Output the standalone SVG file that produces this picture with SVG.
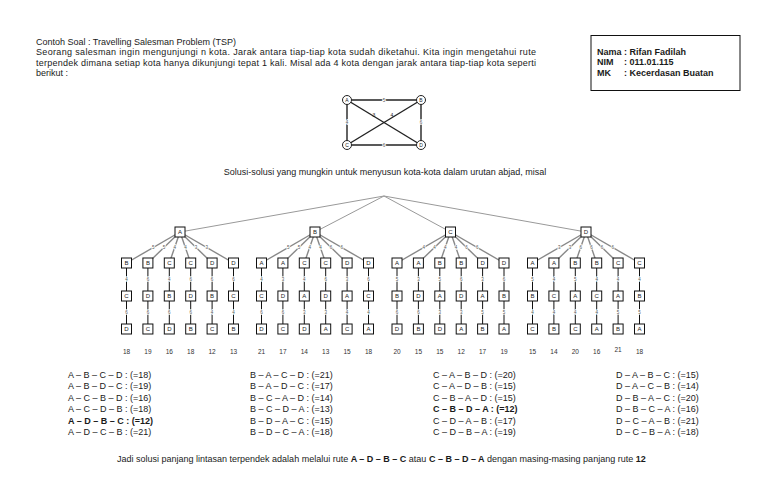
<svg xmlns="http://www.w3.org/2000/svg" width="768" height="501" viewBox="0 0 768 501">
<style>
text{font-family:"Liberation Sans",Arial,sans-serif;fill:#1a1a1a}
.t{font-size:9px}
.b{font-weight:bold}
.nb{fill:#fff;stroke:#111;stroke-width:1}
.nl{font-size:6px;text-anchor:middle}
.gc{fill:#fff;stroke:#222;stroke-width:1}
.gl{font-size:5px;text-anchor:middle}
.el{font-size:4.5px;text-anchor:middle;fill:#555;stroke:#fff;stroke-width:1.5px;paint-order:stroke}
.num{font-size:6.5px;text-anchor:middle;fill:#333}
.e1{stroke:#888;stroke-width:1.4;fill:none}
.e2{stroke:#111;stroke-width:1;fill:none}
.top{stroke:#999;stroke-width:1;fill:none}
.ge{stroke:#222;stroke-width:1.4;fill:none}
</style>
<rect width="768" height="501" fill="#fff"/>
<g id="intro">
<text class="t" x="36" y="44.5">Contoh Soal : Travelling Salesman Problem (TSP)</text>
<text class="t" x="36" y="55" textLength="500" lengthAdjust="spacing">Seorang salesman ingin mengunjungi n kota. Jarak antara tiap-tiap kota sudah diketahui. Kita ingin mengetahui rute</text>
<text class="t" x="36" y="65.5" textLength="500" lengthAdjust="spacing">terpendek dimana setiap kota hanya dikunjungi tepat 1 kali. Misal ada 4 kota dengan jarak antara tiap-tiap kota seperti</text>
<text class="t" x="36" y="76">berikut :</text>
</g>
<g id="infobox">
<rect x="591" y="35.5" width="149" height="55" fill="#fff" stroke="#111" stroke-width="1"/>
<text class="t b" x="597" y="54.5">Nama</text><text class="t b" x="624" y="54.5">:  Rifan Fadilah</text>
<text class="t b" x="597" y="65">NIM</text><text class="t b" x="624" y="65">:  011.01.115</text>
<text class="t b" x="597" y="75.5">MK</text><text class="t b" x="624" y="75.5">: Kecerdasan Buatan</text>
</g>
<g id="graph">
<g id="graph-edges">
<line class="ge" x1="347" y1="100" x2="421" y2="100"/>
<line class="ge" x1="347" y1="100" x2="347" y2="145"/>
<line class="ge" x1="421" y1="100" x2="421" y2="145"/>
<line class="ge" x1="347" y1="145" x2="421" y2="145"/>
<line class="ge" x1="347" y1="100" x2="421" y2="145" stroke-width="1"/>
<line class="ge" x1="421" y1="100" x2="347" y2="145" stroke-width="1"/>
<text class="el" x="384" y="101.7">5</text>
<text class="el" x="347" y="124">4</text>
<text class="el" x="421" y="124">6</text>
<text class="el" x="384" y="146.7">6</text>
<text class="gl" x="374" y="117" fill="#333">3</text>
<text class="gl" x="392" y="117" fill="#333">4</text>
</g>
<g id="g-A"><circle class="gc" cx="347" cy="100" r="4.5"/><text class="gl" x="347" y="101.8">A</text></g>
<g id="g-B"><circle class="gc" cx="421" cy="100" r="4.5"/><text class="gl" x="421" y="101.8">B</text></g>
<g id="g-C"><circle class="gc" cx="347" cy="145" r="4.5"/><text class="gl" x="347" y="146.8">C</text></g>
<g id="g-D"><circle class="gc" cx="421" cy="145" r="4.5"/><text class="gl" x="421" y="146.8">D</text></g>
</g>
<text class="t" x="385" y="174.5" text-anchor="middle">Solusi-solusi yang mungkin untuk menyusun kota-kota dalam urutan abjad, misal</text>
<g id="connectors">
<line class="top" x1="384" y1="196" x2="180" y2="232"/>
<line class="top" x1="384" y1="196" x2="315" y2="232"/>
<line class="top" x1="384" y1="196" x2="450.5" y2="232"/>
<line class="top" x1="384" y1="196" x2="586" y2="232"/>
<!-- A group -->
<line class="e1" x1="180" y1="232" x2="126.5" y2="263"/><line class="e1" x1="180" y1="232" x2="147.9" y2="263"/><line class="e1" x1="180" y1="232" x2="169.3" y2="263"/><line class="e1" x1="180" y1="232" x2="190.7" y2="263"/><line class="e1" x1="180" y1="232" x2="212.1" y2="263"/><line class="e1" x1="180" y1="232" x2="233.5" y2="263"/>
<line class="e1" x1="315" y1="232" x2="261.5" y2="263"/><line class="e1" x1="315" y1="232" x2="282.9" y2="263"/><line class="e1" x1="315" y1="232" x2="304.3" y2="263"/><line class="e1" x1="315" y1="232" x2="325.7" y2="263"/><line class="e1" x1="315" y1="232" x2="347.1" y2="263"/><line class="e1" x1="315" y1="232" x2="368.5" y2="263"/>
<line class="e1" x1="450.5" y1="232" x2="397" y2="263"/><line class="e1" x1="450.5" y1="232" x2="418.4" y2="263"/><line class="e1" x1="450.5" y1="232" x2="439.8" y2="263"/><line class="e1" x1="450.5" y1="232" x2="461.2" y2="263"/><line class="e1" x1="450.5" y1="232" x2="482.6" y2="263"/><line class="e1" x1="450.5" y1="232" x2="504" y2="263"/>
<line class="e1" x1="586" y1="232" x2="532.5" y2="263"/><line class="e1" x1="586" y1="232" x2="553.9" y2="263"/><line class="e1" x1="586" y1="232" x2="575.3" y2="263"/><line class="e1" x1="586" y1="232" x2="596.7" y2="263"/><line class="e1" x1="586" y1="232" x2="618.1" y2="263"/><line class="e1" x1="586" y1="232" x2="639.5" y2="263"/>
<!-- verticals -->
<path class="e2" d="M126.5 263V329M147.9 263V329M169.3 263V329M190.7 263V329M212.1 263V329M233.5 263V329M261.5 263V329M282.9 263V329M304.3 263V329M325.7 263V329M347.1 263V329M368.5 263V329M397 263V329M418.4 263V329M439.8 263V329M461.2 263V329M482.6 263V329M504 263V329M532.5 263V329M553.9 263V329M575.3 263V329M596.7 263V329M618.1 263V329M639.5 263V329"/>
<!-- labels level 1 -->
<g>
<text class="el" x="153.2" y="249">5</text><text class="el" x="164" y="249">5</text><text class="el" x="174.7" y="249">4</text><text class="el" x="185.4" y="249">4</text><text class="el" x="196" y="249">3</text><text class="el" x="206.8" y="249">3</text>
<text class="el" x="288.2" y="249">5</text><text class="el" x="299" y="249">5</text><text class="el" x="309.7" y="249">4</text><text class="el" x="320.4" y="249">4</text><text class="el" x="331" y="249">6</text><text class="el" x="341.8" y="249">6</text>
<text class="el" x="423.7" y="249">4</text><text class="el" x="434.5" y="249">4</text><text class="el" x="445.2" y="249">4</text><text class="el" x="455.9" y="249">4</text><text class="el" x="466.5" y="249">6</text><text class="el" x="477.3" y="249">6</text>
<text class="el" x="559.2" y="249">3</text><text class="el" x="570" y="249">3</text><text class="el" x="580.7" y="249">6</text><text class="el" x="591.4" y="249">6</text><text class="el" x="602" y="249">6</text><text class="el" x="612.8" y="249">6</text>
</g>
<!-- labels level 2 -->
<g>
<text class="el" x="126.5" y="281">4</text><text class="el" x="147.9" y="281">6</text><text class="el" x="169.3" y="281">4</text><text class="el" x="190.7" y="281">6</text><text class="el" x="212.1" y="281">6</text><text class="el" x="233.5" y="281">6</text>
<text class="el" x="261.5" y="281">4</text><text class="el" x="282.9" y="281">3</text><text class="el" x="304.3" y="281">4</text><text class="el" x="325.7" y="281">6</text><text class="el" x="347.1" y="281">3</text><text class="el" x="368.5" y="281">6</text>
<text class="el" x="397" y="281">5</text><text class="el" x="418.4" y="281">3</text><text class="el" x="439.8" y="281">5</text><text class="el" x="461.2" y="281">6</text><text class="el" x="482.6" y="281">3</text><text class="el" x="504" y="281">6</text>
<text class="el" x="532.5" y="281">5</text><text class="el" x="553.9" y="281">4</text><text class="el" x="575.3" y="281">5</text><text class="el" x="596.7" y="281">4</text><text class="el" x="618.1" y="281">4</text><text class="el" x="639.5" y="281">4</text>
</g>
<!-- labels level 3 -->
<g>
<text class="el" x="126.5" y="314">6</text><text class="el" x="147.9" y="314">6</text><text class="el" x="169.3" y="314">6</text><text class="el" x="190.7" y="314">6</text><text class="el" x="212.1" y="314">4</text><text class="el" x="233.5" y="314">4</text>
<text class="el" x="261.5" y="314">6</text><text class="el" x="282.9" y="314">6</text><text class="el" x="304.3" y="314">3</text><text class="el" x="325.7" y="314">3</text><text class="el" x="347.1" y="314">4</text><text class="el" x="368.5" y="314">4</text>
<text class="el" x="397" y="314">6</text><text class="el" x="418.4" y="314">6</text><text class="el" x="439.8" y="314">3</text><text class="el" x="461.2" y="314">3</text><text class="el" x="482.6" y="314">5</text><text class="el" x="504" y="314">5</text>
<text class="el" x="532.5" y="314">4</text><text class="el" x="553.9" y="314">4</text><text class="el" x="575.3" y="314">4</text><text class="el" x="596.7" y="314">4</text><text class="el" x="618.1" y="314">5</text><text class="el" x="639.5" y="314">5</text>
</g>
</g>
<g id="tree-nodes">
<g id="rA"><rect class="nb" x="175" y="227" width="10" height="10"/><text class="nl" x="180" y="234.2">A</text></g>
<g id="rB"><rect class="nb" x="310" y="227" width="10" height="10"/><text class="nl" x="315" y="234.2">B</text></g>
<g id="rC"><rect class="nb" x="445.5" y="227" width="10" height="10"/><text class="nl" x="450.5" y="234.2">C</text></g>
<g id="rD"><rect class="nb" x="581" y="227" width="10" height="10"/><text class="nl" x="586" y="234.2">D</text></g>
</g>
<g id="level2">
<g id="A1"><rect class="nb" x="121.5" y="258" width="10" height="10"/><text class="nl" x="126.5" y="265.2">B</text></g>
<g id="A2"><rect class="nb" x="142.9" y="258" width="10" height="10"/><text class="nl" x="147.9" y="265.2">B</text></g>
<g id="A3"><rect class="nb" x="164.3" y="258" width="10" height="10"/><text class="nl" x="169.3" y="265.2">C</text></g>
<g id="A4"><rect class="nb" x="185.7" y="258" width="10" height="10"/><text class="nl" x="190.7" y="265.2">C</text></g>
<g id="A5"><rect class="nb" x="207.1" y="258" width="10" height="10"/><text class="nl" x="212.1" y="265.2">D</text></g>
<g id="A6"><rect class="nb" x="228.5" y="258" width="10" height="10"/><text class="nl" x="233.5" y="265.2">D</text></g>
<g id="B1"><rect class="nb" x="256.5" y="258" width="10" height="10"/><text class="nl" x="261.5" y="265.2">A</text></g>
<g id="B2"><rect class="nb" x="277.9" y="258" width="10" height="10"/><text class="nl" x="282.9" y="265.2">A</text></g>
<g id="B3"><rect class="nb" x="299.3" y="258" width="10" height="10"/><text class="nl" x="304.3" y="265.2">C</text></g>
<g id="B4"><rect class="nb" x="320.7" y="258" width="10" height="10"/><text class="nl" x="325.7" y="265.2">C</text></g>
<g id="B5"><rect class="nb" x="342.1" y="258" width="10" height="10"/><text class="nl" x="347.1" y="265.2">D</text></g>
<g id="B6"><rect class="nb" x="363.5" y="258" width="10" height="10"/><text class="nl" x="368.5" y="265.2">D</text></g>
<g id="C1"><rect class="nb" x="392" y="258" width="10" height="10"/><text class="nl" x="397" y="265.2">A</text></g>
<g id="C2"><rect class="nb" x="413.4" y="258" width="10" height="10"/><text class="nl" x="418.4" y="265.2">A</text></g>
<g id="C3"><rect class="nb" x="434.8" y="258" width="10" height="10"/><text class="nl" x="439.8" y="265.2">B</text></g>
<g id="C4"><rect class="nb" x="456.2" y="258" width="10" height="10"/><text class="nl" x="461.2" y="265.2">B</text></g>
<g id="C5"><rect class="nb" x="477.6" y="258" width="10" height="10"/><text class="nl" x="482.6" y="265.2">D</text></g>
<g id="C6"><rect class="nb" x="499" y="258" width="10" height="10"/><text class="nl" x="504" y="265.2">D</text></g>
<g id="D1"><rect class="nb" x="527.5" y="258" width="10" height="10"/><text class="nl" x="532.5" y="265.2">A</text></g>
<g id="D2"><rect class="nb" x="548.9" y="258" width="10" height="10"/><text class="nl" x="553.9" y="265.2">A</text></g>
<g id="D3"><rect class="nb" x="570.3" y="258" width="10" height="10"/><text class="nl" x="575.3" y="265.2">B</text></g>
<g id="D4"><rect class="nb" x="591.7" y="258" width="10" height="10"/><text class="nl" x="596.7" y="265.2">B</text></g>
<g id="D5"><rect class="nb" x="613.1" y="258" width="10" height="10"/><text class="nl" x="618.1" y="265.2">C</text></g>
<g id="D6"><rect class="nb" x="634.5" y="258" width="10" height="10"/><text class="nl" x="639.5" y="265.2">C</text></g>
</g>
<g id="level3">
<g id="A1b"><rect class="nb" x="121.5" y="291" width="10" height="10"/><text class="nl" x="126.5" y="298.2">C</text></g>
<g id="A2b"><rect class="nb" x="142.9" y="291" width="10" height="10"/><text class="nl" x="147.9" y="298.2">D</text></g>
<g id="A3b"><rect class="nb" x="164.3" y="291" width="10" height="10"/><text class="nl" x="169.3" y="298.2">B</text></g>
<g id="A4b"><rect class="nb" x="185.7" y="291" width="10" height="10"/><text class="nl" x="190.7" y="298.2">D</text></g>
<g id="A5b"><rect class="nb" x="207.1" y="291" width="10" height="10"/><text class="nl" x="212.1" y="298.2">B</text></g>
<g id="A6b"><rect class="nb" x="228.5" y="291" width="10" height="10"/><text class="nl" x="233.5" y="298.2">C</text></g>
<g id="B1b"><rect class="nb" x="256.5" y="291" width="10" height="10"/><text class="nl" x="261.5" y="298.2">C</text></g>
<g id="B2b"><rect class="nb" x="277.9" y="291" width="10" height="10"/><text class="nl" x="282.9" y="298.2">D</text></g>
<g id="B3b"><rect class="nb" x="299.3" y="291" width="10" height="10"/><text class="nl" x="304.3" y="298.2">A</text></g>
<g id="B4b"><rect class="nb" x="320.7" y="291" width="10" height="10"/><text class="nl" x="325.7" y="298.2">D</text></g>
<g id="B5b"><rect class="nb" x="342.1" y="291" width="10" height="10"/><text class="nl" x="347.1" y="298.2">A</text></g>
<g id="B6b"><rect class="nb" x="363.5" y="291" width="10" height="10"/><text class="nl" x="368.5" y="298.2">C</text></g>
<g id="C1b"><rect class="nb" x="392" y="291" width="10" height="10"/><text class="nl" x="397" y="298.2">B</text></g>
<g id="C2b"><rect class="nb" x="413.4" y="291" width="10" height="10"/><text class="nl" x="418.4" y="298.2">D</text></g>
<g id="C3b"><rect class="nb" x="434.8" y="291" width="10" height="10"/><text class="nl" x="439.8" y="298.2">A</text></g>
<g id="C4b"><rect class="nb" x="456.2" y="291" width="10" height="10"/><text class="nl" x="461.2" y="298.2">D</text></g>
<g id="C5b"><rect class="nb" x="477.6" y="291" width="10" height="10"/><text class="nl" x="482.6" y="298.2">A</text></g>
<g id="C6b"><rect class="nb" x="499" y="291" width="10" height="10"/><text class="nl" x="504" y="298.2">B</text></g>
<g id="D1b"><rect class="nb" x="527.5" y="291" width="10" height="10"/><text class="nl" x="532.5" y="298.2">B</text></g>
<g id="D2b"><rect class="nb" x="548.9" y="291" width="10" height="10"/><text class="nl" x="553.9" y="298.2">C</text></g>
<g id="D3b"><rect class="nb" x="570.3" y="291" width="10" height="10"/><text class="nl" x="575.3" y="298.2">A</text></g>
<g id="D4b"><rect class="nb" x="591.7" y="291" width="10" height="10"/><text class="nl" x="596.7" y="298.2">C</text></g>
<g id="D5b"><rect class="nb" x="613.1" y="291" width="10" height="10"/><text class="nl" x="618.1" y="298.2">A</text></g>
<g id="D6b"><rect class="nb" x="634.5" y="291" width="10" height="10"/><text class="nl" x="639.5" y="298.2">B</text></g>
</g>
<g id="level4">
<g id="A1c"><rect class="nb" x="121.5" y="324" width="10" height="10"/><text class="nl" x="126.5" y="331.2">D</text></g>
<g id="A2c"><rect class="nb" x="142.9" y="324" width="10" height="10"/><text class="nl" x="147.9" y="331.2">C</text></g>
<g id="A3c"><rect class="nb" x="164.3" y="324" width="10" height="10"/><text class="nl" x="169.3" y="331.2">D</text></g>
<g id="A4c"><rect class="nb" x="185.7" y="324" width="10" height="10"/><text class="nl" x="190.7" y="331.2">B</text></g>
<g id="A5c"><rect class="nb" x="207.1" y="324" width="10" height="10"/><text class="nl" x="212.1" y="331.2">C</text></g>
<g id="A6c"><rect class="nb" x="228.5" y="324" width="10" height="10"/><text class="nl" x="233.5" y="331.2">B</text></g>
<g id="B1c"><rect class="nb" x="256.5" y="324" width="10" height="10"/><text class="nl" x="261.5" y="331.2">D</text></g>
<g id="B2c"><rect class="nb" x="277.9" y="324" width="10" height="10"/><text class="nl" x="282.9" y="331.2">C</text></g>
<g id="B3c"><rect class="nb" x="299.3" y="324" width="10" height="10"/><text class="nl" x="304.3" y="331.2">D</text></g>
<g id="B4c"><rect class="nb" x="320.7" y="324" width="10" height="10"/><text class="nl" x="325.7" y="331.2">A</text></g>
<g id="B5c"><rect class="nb" x="342.1" y="324" width="10" height="10"/><text class="nl" x="347.1" y="331.2">C</text></g>
<g id="B6c"><rect class="nb" x="363.5" y="324" width="10" height="10"/><text class="nl" x="368.5" y="331.2">A</text></g>
<g id="C1c"><rect class="nb" x="392" y="324" width="10" height="10"/><text class="nl" x="397" y="331.2">D</text></g>
<g id="C2c"><rect class="nb" x="413.4" y="324" width="10" height="10"/><text class="nl" x="418.4" y="331.2">B</text></g>
<g id="C3c"><rect class="nb" x="434.8" y="324" width="10" height="10"/><text class="nl" x="439.8" y="331.2">D</text></g>
<g id="C4c"><rect class="nb" x="456.2" y="324" width="10" height="10"/><text class="nl" x="461.2" y="331.2">A</text></g>
<g id="C5c"><rect class="nb" x="477.6" y="324" width="10" height="10"/><text class="nl" x="482.6" y="331.2">B</text></g>
<g id="C6c"><rect class="nb" x="499" y="324" width="10" height="10"/><text class="nl" x="504" y="331.2">A</text></g>
<g id="D1c"><rect class="nb" x="527.5" y="324" width="10" height="10"/><text class="nl" x="532.5" y="331.2">C</text></g>
<g id="D2c"><rect class="nb" x="548.9" y="324" width="10" height="10"/><text class="nl" x="553.9" y="331.2">B</text></g>
<g id="D3c"><rect class="nb" x="570.3" y="324" width="10" height="10"/><text class="nl" x="575.3" y="331.2">C</text></g>
<g id="D4c"><rect class="nb" x="591.7" y="324" width="10" height="10"/><text class="nl" x="596.7" y="331.2">A</text></g>
<g id="D5c"><rect class="nb" x="613.1" y="324" width="10" height="10"/><text class="nl" x="618.1" y="331.2">B</text></g>
<g id="D6c"><rect class="nb" x="634.5" y="324" width="10" height="10"/><text class="nl" x="639.5" y="331.2">A</text></g>
</g>
<g id="totals">
<text class="num" x="126.5" y="353.5">18</text><text class="num" x="147.9" y="353.5">19</text><text class="num" x="169.3" y="353.5">16</text><text class="num" x="190.7" y="353.5">18</text><text class="num" x="212.1" y="353.5">12</text><text class="num" x="233.5" y="353.5">13</text>
<text class="num" x="261.5" y="353.5">21</text><text class="num" x="282.9" y="353.5">17</text><text class="num" x="304.3" y="353.5">14</text><text class="num" x="325.7" y="353.5">13</text><text class="num" x="347.1" y="353.5">15</text><text class="num" x="368.5" y="353.5">18</text>
<text class="num" x="397" y="353.5">20</text><text class="num" x="418.4" y="353.5">15</text><text class="num" x="439.8" y="353.5">15</text><text class="num" x="461.2" y="353.5">12</text><text class="num" x="482.6" y="353.5">17</text><text class="num" x="504" y="353.5">19</text>
<text class="num" x="532.5" y="353.5">15</text><text class="num" x="553.9" y="353.5">14</text><text class="num" x="575.3" y="353.5">20</text><text class="num" x="596.7" y="353.5">16</text><text class="num" x="618.1" y="352">21</text><text class="num" x="639.5" y="353.5">18</text>
</g>
<g id="list">
<text class="t" x="68" y="377.5">A – B – C – D : (=18)</text>
<text class="t" x="68" y="389">A – B – D – C : (=19)</text>
<text class="t" x="68" y="400.5">A – C – B – D : (=16)</text>
<text class="t" x="68" y="412">A – C – D – B : (=18)</text>
<text class="t b" x="68" y="423.5">A – D – B – C : (=12)</text>
<text class="t" x="68" y="435">A – D – C – B : (=21)</text>
<text class="t" x="250" y="377.5">B – A – C – D : (=21)</text>
<text class="t" x="250" y="389">B – A – D – C : (=17)</text>
<text class="t" x="250" y="400.5">B – C – A – D : (=14)</text>
<text class="t" x="250" y="412">B – C – D – A : (=13)</text>
<text class="t" x="250" y="423.5">B – D – A – C : (=15)</text>
<text class="t" x="250" y="435">B – D – C – A : (=18)</text>
<text class="t" x="433" y="377.5">C – A – B – D : (=20)</text>
<text class="t" x="433" y="389">C – A – D – B : (=15)</text>
<text class="t" x="433" y="400.5">C – B – A – D : (=15)</text>
<text class="t b" x="433" y="412">C – B – D – A : (=12)</text>
<text class="t" x="433" y="423.5">C – D – A – B : (=17)</text>
<text class="t" x="433" y="435">C – D – B – A : (=19)</text>
<text class="t" x="616" y="377.5">D – A – B – C : (=15)</text>
<text class="t" x="616" y="389">D – A – C – B : (=14)</text>
<text class="t" x="616" y="400.5">D – B – A – C : (=20)</text>
<text class="t" x="616" y="412">D – B – C – A : (=16)</text>
<text class="t" x="616" y="423.5">D – C – A – B : (=21)</text>
<text class="t" x="616" y="435">D – C – B – A : (=18)</text>
</g>
<text class="t" x="117" y="461.5">Jadi solusi panjang lintasan terpendek adalah melalui rute <tspan class="b">A – D – B – C</tspan> atau <tspan class="b">C – B – D – A</tspan> dengan masing-masing panjang rute <tspan class="b">12</tspan></text>
</svg>
